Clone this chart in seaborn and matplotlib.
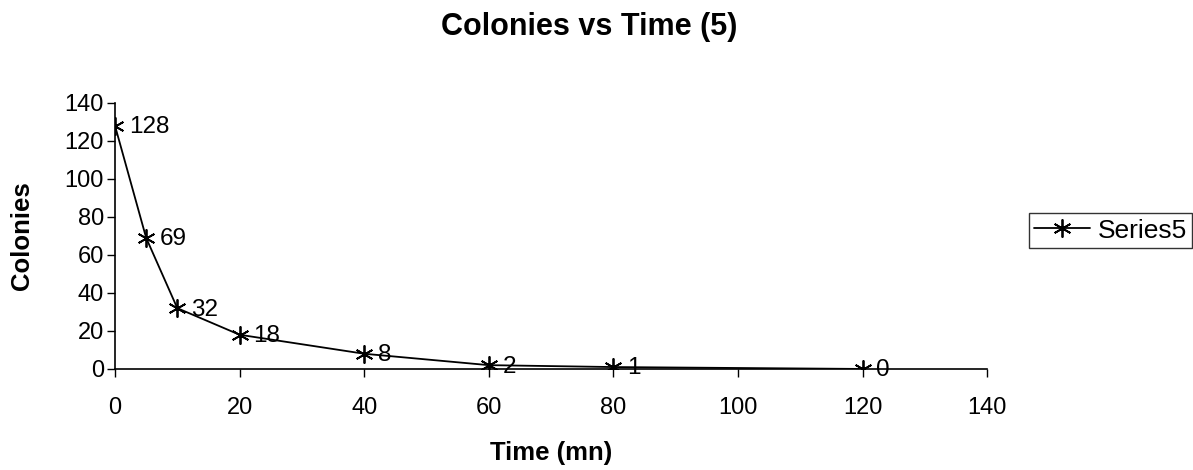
import pandas as pd
import matplotlib
matplotlib.use("Agg")
import matplotlib.pyplot as plt
import seaborn as sns

# data
time_mn = [0, 5, 10, 20, 40, 60, 80, 120]
colonies = [128, 69, 32, 18, 8, 2, 1, 0]
x_ticks = [0, 20, 40, 60, 80, 100, 120, 140]
y_ticks = [0, 20, 40, 60, 80, 100, 120, 140]

df = pd.DataFrame({"Time (mn)": time_mn, "Colonies": colonies})

sns.set_style("white")
plt.rcParams["font.family"] = ["Liberation Sans", "DejaVu Sans"]
plt.rcParams["text.color"] = "black"
plt.rcParams["axes.labelcolor"] = "black"

fig = plt.figure(figsize=(11.93, 4.70), dpi=100)
ax = fig.add_axes([0.0964, 0.215, 0.731, 0.566])

star = (6, 2, 0)
sns.lineplot(data=df, x="Time (mn)", y="Colonies", ax=ax, color="black",
             linewidth=1.3, marker=star, markersize=13, markeredgewidth=1.3,
             markeredgecolor="black", label="Series5")

# data labels to the right of each point
for t, c in zip(time_mn, colonies):
    ax.annotate(str(c), (t, c), xytext=(10, -1), textcoords="offset points",
                va="center", ha="left", fontsize=17.5, color="black")

ax.set_xlim(0, 140)
ax.set_ylim(0, 140)
ax.set_xticks(x_ticks)
ax.set_yticks(y_ticks)
ax.tick_params(axis="both", direction="out", length=6, width=1, labelsize=17,
               colors="black", bottom=True, left=True)
ax.tick_params(axis="x", pad=14)
ax.tick_params(axis="y", pad=2)

for side in ["top", "right"]:
    ax.spines[side].set_visible(False)
for side in ["left", "bottom"]:
    ax.spines[side].set_color("black")
    ax.spines[side].set_linewidth(1.2)

ax.set_xlabel("Time (mn)", fontsize=18.5, fontweight="bold", labelpad=16)
ax.set_ylabel("Colonies", fontsize=18.5, fontweight="bold", labelpad=22)
fig.suptitle("Colonies vs Time (5)", x=0.494, y=0.975, fontsize=22,
             fontweight="bold")

leg = ax.legend(loc="center left", bbox_to_anchor=(1.048, 0.52), frameon=True,
                fancybox=False, edgecolor="black", fontsize=19,
                handlelength=2.1, borderpad=0.2, handletextpad=0.3,
                borderaxespad=0)
leg.get_frame().set_linewidth(1.0)

fig.savefig("out.png", dpi=100)
